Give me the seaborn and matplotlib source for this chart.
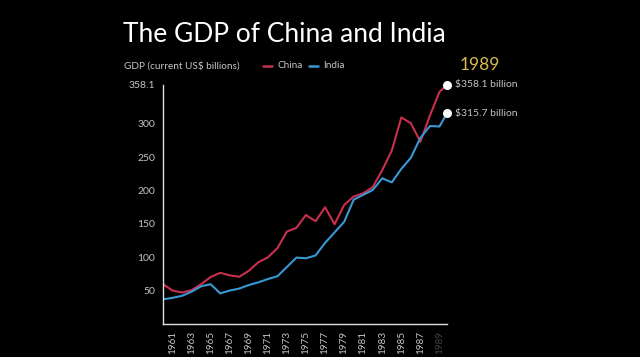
import matplotlib
matplotlib.use("Agg")
import matplotlib.pyplot as plt
import seaborn as sns
import pandas as pd

years = [1960, 1961, 1962, 1963, 1964, 1965, 1966, 1967, 1968, 1969,
         1970, 1971, 1972, 1973, 1974, 1975, 1976, 1977, 1978, 1979,
         1980, 1981, 1982, 1983, 1984, 1985, 1986, 1987, 1988, 1989, 1989.79]
china = [59.7, 50.1, 47.2, 50.7, 59.7, 70.4, 76.7, 72.9, 70.8, 79.7,
         92.6, 99.8, 113.7, 138.5, 144.2, 163.4, 153.9, 174.9, 149.5, 178.3,
         191.1, 195.9, 205.1, 230.7, 259.9, 309.5, 300.8, 273.0, 312.4, 347.8, 358.1]
india = [37.0, 39.2, 42.2, 48.4, 56.5, 59.6, 45.9, 50.1, 53.1, 58.4,
         62.4, 67.4, 71.5, 85.5, 99.5, 98.5, 102.7, 121.5, 137.3, 153.0,
         186.3, 193.5, 200.7, 218.3, 212.2, 232.5, 249.0, 279.0, 296.6, 296.0, 315.7]
series = ["China", "India"]
tick_years = list(range(1961, 1990, 2))
y_ticks = [50, 100, 150, 200, 250, 300, 358.1]
y_tick_labels = ["50", "100", "150", "200", "250", "300", "358.1"]
title = "The GDP of China and India"
subtitle = "GDP (current US$ billions)"
year_label = "1989"

df = pd.DataFrame({
    "year": years * 2,
    "gdp": china + india,
    "country": ["China"] * len(years) + ["India"] * len(years),
})

RED = "#c9304e"
BLUE = "#3a98d4"
TXT = "#c4c4c4"
FONT = ["Lato", "DejaVu Sans"]

sns.set_theme(style="dark")
plt.rcParams["font.family"] = FONT

fig = plt.figure(figsize=(6.4, 3.57), dpi=100, facecolor="black")
ax = fig.add_axes([163 / 640, (357 - 324) / 357, (447 - 163) / 640, (324 - 85) / 357])
ax.set_facecolor("black")

sns.lineplot(data=df, x="year", y="gdp", hue="country", hue_order=series,
             palette={"China": RED, "India": BLUE}, linewidth=1.5,
             legend=False, ax=ax)

ax.set_xlim(1960, 1989.79)
ax.set_ylim(0, 358.1)
ax.grid(False)
ax.set_xlabel("")
ax.set_ylabel("")

for s in ["top", "right"]:
    ax.spines[s].set_visible(False)
for s in ["left", "bottom"]:
    ax.spines[s].set_visible(True)
    ax.spines[s].set_color("#e0e0e0")
    ax.spines[s].set_linewidth(1.0)

ax.set_yticks(y_ticks)
ax.set_yticklabels(y_tick_labels)
ax.set_xticks(tick_years)
ax.set_xticklabels([str(y) for y in tick_years], rotation=90)
ax.tick_params(axis="both", colors="#e0e0e0", labelcolor=TXT, labelsize=7.5,
               length=3.5, width=0.8, direction="out", pad=2)
ax.tick_params(axis="x", labelsize=7.2, pad=1.5)
for lbl in ax.get_xticklabels():
    if lbl.get_text() == "1989":
        lbl.set_color("#444444")

# end points
ax.scatter([years[-1], years[-1]], [china[-1], india[-1]], s=30, color="white",
           zorder=5, clip_on=False)
ax.annotate(f"${china[-1]:.1f} billion", (years[-1], china[-1]), xytext=(6, 0),
            textcoords="offset points", va="center", ha="left", color=TXT,
            fontsize=7.5, annotation_clip=False)
ax.annotate(f"${india[-1]:.1f} billion", (years[-1], india[-1]), xytext=(6, 0),
            textcoords="offset points", va="center", ha="left", color=TXT,
            fontsize=7.5, annotation_clip=False)

# titles
fig.text(123 / 640, 1 - 34 / 357, title, color="white", fontsize=19,
         fontweight="normal", va="center", ha="left")
fig.text(124 / 640, 1 - 66 / 357, subtitle, color=TXT, fontsize=7.2,
         va="center", ha="left")
fig.text(460 / 640, 1 - 65 / 357, year_label, color="#d9bb4e", fontsize=12.5,
         va="center", ha="left")

# legend
fig.lines.append(plt.Line2D([263 / 640, 272 / 640], [1 - 66 / 357] * 2,
                            color=RED, lw=1.8, transform=fig.transFigure))
fig.text(277 / 640, 1 - 66 / 357, "China", color=TXT, fontsize=7.2, va="center")
fig.lines.append(plt.Line2D([309 / 640, 318 / 640], [1 - 66 / 357] * 2,
                            color=BLUE, lw=1.8, transform=fig.transFigure))
fig.text(323 / 640, 1 - 66 / 357, "India", color=TXT, fontsize=7.2, va="center")

fig.savefig("out.png", dpi=100, facecolor="black")
